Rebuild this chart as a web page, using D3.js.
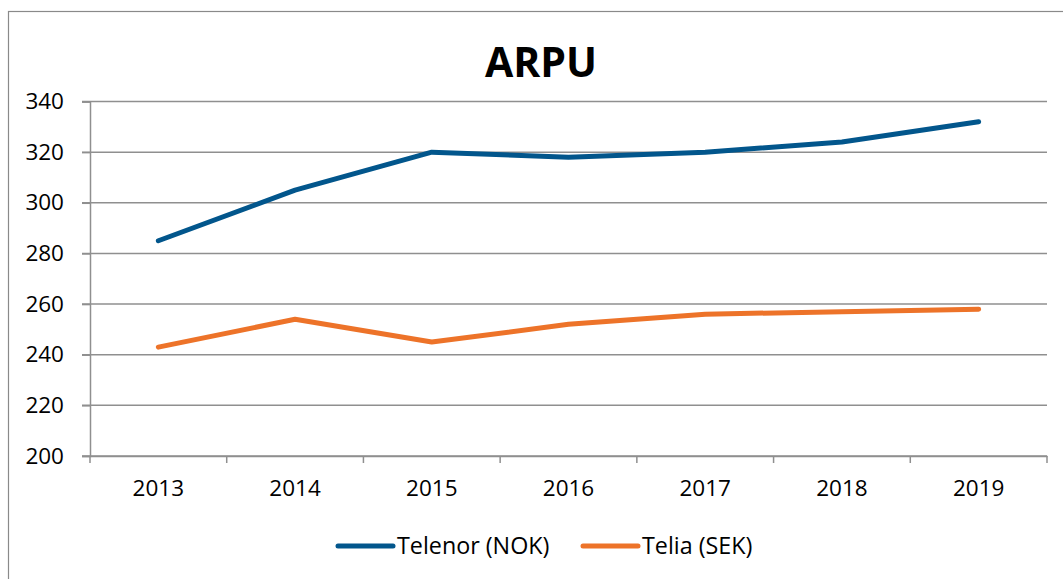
<!DOCTYPE html>
<html>
<head>
<meta charset="utf-8">
<script src="https://cdn.jsdelivr.net/npm/d3@7"></script>
<style>
  body { margin: 0; background: #fff; }
  svg { display: block; font-family: "Open Sans", sans-serif; }
</style>
</head>
<body>
<svg id="chart" width="1063" height="579"></svg>
<script>
// data
const years = ["2013", "2014", "2015", "2016", "2017", "2018", "2019"]
const telenor = [285, 305, 320, 318, 320, 324, 332]
const telia = [243, 254, 245, 252, 256, 257, 258]
const yTicks = [200, 220, 240, 260, 280, 300, 320, 340]
const seriesNames = ["Telenor (NOK)", "Telia (SEK)"]
const seriesColors = ["#02568c", "#ed7329"]

const svg = d3.select("#chart")
const plot = { left: 90, right: 1047, top: 101.5, bottom: 456 }

// outer chart border (runs off the right and bottom of the picture)
svg.append("rect")
  .attr("x", 8.5).attr("y", 11.5)
  .attr("width", 1080).attr("height", 600)
  .attr("fill", "none").attr("stroke", "#8a8a8a").attr("stroke-width", 1.2)

svg.append("text")
  .attr("x", 541).attr("y", 77)
  .attr("text-anchor", "middle")
  .attr("font-weight", "bold").attr("font-size", 41)
  .attr("fill", "#000")
  .text("ARPU")

const x = d3.scaleBand().domain(years).range([plot.left, plot.right]).padding(0)
const y = d3.scaleLinear().domain([200, 340]).range([plot.bottom, plot.top])

// gridlines
svg.append("g")
  .selectAll("line")
  .data(yTicks)
  .join("line")
  .attr("x1", plot.left - 8).attr("x2", plot.right)
  .attr("y1", d => y(d)).attr("y2", d => y(d))
  .attr("stroke", "#8f8f8f").attr("stroke-width", 1.5)

// y axis
const yAxis = svg.append("g")
  .attr("transform", `translate(${plot.left},0)`)
  .call(d3.axisLeft(y).tickValues(yTicks).tickSize(8).tickPadding(18))
yAxis.select(".domain").attr("stroke", "#8f8f8f").attr("stroke-width", 1.5)
yAxis.selectAll(".tick line").attr("stroke", "#8f8f8f").attr("stroke-width", 1.5)
yAxis.selectAll("text").attr("font-size", 22.5).attr("fill", "#000")
  .attr("font-family", "Open Sans, sans-serif")

// x axis: ticks between categories
const xAxis = svg.append("g")
  .attr("transform", `translate(0,${plot.bottom})`)
  .call(d3.axisBottom(x).tickSize(0).tickPadding(24))
xAxis.select(".domain").attr("stroke", "#8f8f8f").attr("stroke-width", 1.5)
xAxis.selectAll("text").attr("font-size", 22.5).attr("fill", "#000")
  .attr("font-family", "Open Sans, sans-serif")
xAxis.selectAll(".sep")
  .data(years.concat(["end"]))
  .join("line")
  .attr("class", "sep")
  .attr("x1", (d, i) => i < years.length ? x(d) : x(years[years.length - 1]) + x.bandwidth())
  .attr("x2", (d, i) => i < years.length ? x(d) : x(years[years.length - 1]) + x.bandwidth())
  .attr("y1", 0).attr("y2", 7)
  .attr("stroke", "#8f8f8f").attr("stroke-width", 1.5)

// lines
const line = d3.line()
  .x((d, i) => x(years[i]) + x.bandwidth() / 2)
  .y(d => y(d))

const allSeries = [telenor, telia]
svg.append("g")
  .selectAll("path")
  .data(allSeries)
  .join("path")
  .attr("d", d => line(d))
  .attr("fill", "none")
  .attr("stroke", (d, i) => seriesColors[i])
  .attr("stroke-width", 5)
  .attr("stroke-linecap", "round")
  .attr("stroke-linejoin", "round")

// legend
const legendX = [338, 583]
const legend = svg.append("g")
  .selectAll("g")
  .data(seriesNames)
  .join("g")
  .attr("transform", (d, i) => `translate(${legendX[i]},546)`)
legend.append("line")
  .attr("x1", 0).attr("x2", 55)
  .attr("stroke", (d, i) => seriesColors[i])
  .attr("stroke-width", 5)
  .attr("stroke-linecap", "round")
legend.append("text")
  .attr("x", 59).attr("dy", "0.35em")
  .attr("font-size", 23.3).attr("fill", "#000")
  .text(d => d)
</script>
</body>
</html>
